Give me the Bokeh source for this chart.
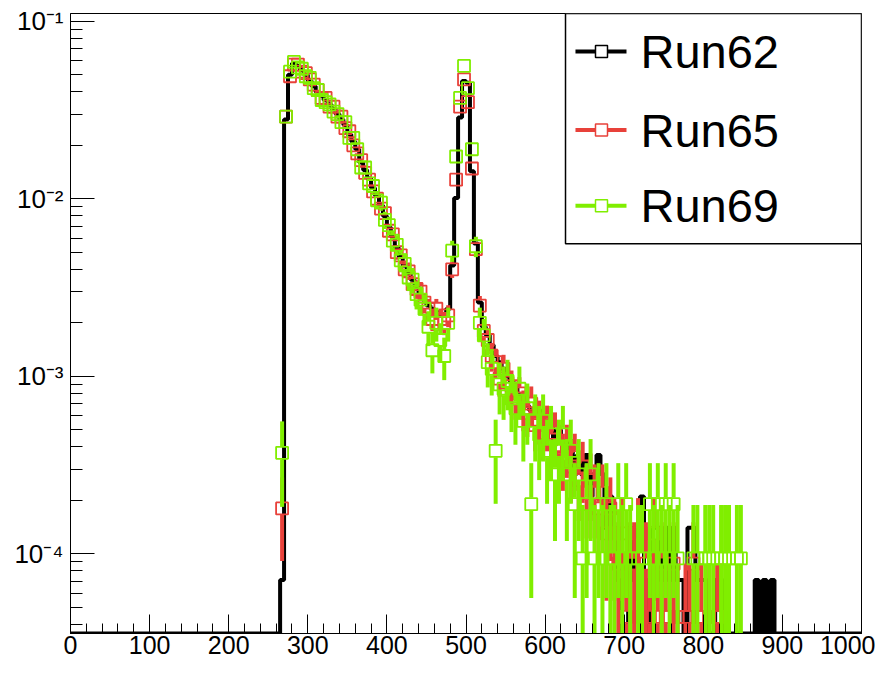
import math
from bokeh.plotting import figure
from bokeh.models import Range1d, FixedTicker, CustomJSTickFormatter
from bokeh.core.properties import value
from bokeh.embed import file_html
from bokeh.resources import INLINE

# ---------------- data (normalised bin contents, 5-unit bins) ----------------
bin_width = 5
bin_left = list(range(260, 900, bin_width))   # 128 bins, 260 .. 895

run62 = [
    0, 7.1e-5, 0.028, 0.050, 0.058, 0.056, 0.053, 0.050, 0.046, 0.043,            # 260-305
    0.040, 0.038, 0.036, 0.034, 0.032, 0.030, 0.028, 0.026, 0.023, 0.021,          # 310-355
    0.019, 0.016, 0.0145, 0.013, 0.0115, 0.0104, 0.0092, 0.0080, 0.0069, 0.0061,   # 360-405
    0.0053, 0.0047, 0.0042, 0.0038, 0.0035, 0.0032, 0.0029, 0.0027, 0.0025, 0.0024,  # 410-455
    0.0023, 0.0022, 0.0022, 0.0024, 0.0042, 0.0101, 0.0287, 0.046, 0.045, 0.0143,  # 460-505
    0.0056, 0.0026, 0.0019, 0.0017, 0.0015, 0.0013, 0.0012, 0.0011, 0.0010, 0.00094,  # 510-555
    0.00087, 0.00078, 0.00071, 0.00068, 0.00064, 0.00060, 0.00064, 0.00057, 0.00050, 0.00057,  # 560-605
    0.00043, 0.00050, 0.00043, 0.00036, 0.00043, 0.00028, 0.00036, 0.00028, 0.00036, 0.00021,  # 610-655
    0.00028, 0.00036, 0.00028, 0.00014, 0.00021, 0.00014, 7.1e-5, 0, 0, 0.00014,   # 660-705
    7.1e-5, 0.00014, 0.00021, 7.1e-5, 0, 0.00014, 0.00014, 7.1e-5, 0.00014, 7.1e-5,  # 710-755
    0.00014, 7.1e-5, 7.1e-5, 0, 0.00014, 0.00014, 7.1e-5, 7.1e-5, 7.1e-5, 0,      # 760-805
    0, 7.1e-5, 7.1e-5, 0, 0, 0, 0, 0, 0, 0,                                        # 810-855
    0, 7.1e-5, 0, 7.1e-5, 0, 7.1e-5, 0, 0,                                         # 860-895
]

run65 = [
    0, 1.8e-4, 0.029, 0.049, 0.057, 0.057, 0.052, 0.051, 0.047, 0.044,
    0.041, 0.037, 0.037, 0.033, 0.033, 0.029, 0.029, 0.025, 0.024, 0.020,
    0.018, 0.0165, 0.0140, 0.0128, 0.0110, 0.0100, 0.0088, 0.0083, 0.0066, 0.0063,
    0.0050, 0.0048, 0.0040, 0.0039, 0.0033, 0.0031, 0.0030, 0.0026, 0.0024, 0.0021,
    0.0024, 0.0021, 0.0020, 0.0022, 0.0040, 0.0128, 0.033, 0.047, 0.035, 0.0148,
    0.0052, 0.0025, 0.0018, 0.0016, 0.0013, 0.0012, 0.00097, 0.0011, 0.00092, 0.00088,
    0.00075, 0.00080, 0.00066, 0.00062, 0.00070, 0.00053, 0.00057, 0.00048, 0.00053, 0.00044,
    0.00048, 0.00040, 0.00035, 0.00040, 0.00031, 0.00035, 0.00026, 0.00031, 0.00022, 0.00026,
    0.00022, 0.00018, 0.00022, 0.00013, 0.00018, 0.00013, 8.8e-5, 0.00013, 4.4e-5, 8.8e-5,
    8.8e-5, 0.00013, 4.4e-5, 8.8e-5, 4.4e-5, 0.00013, 4.4e-5, 8.8e-5, 4.4e-5, 4.4e-5,
    8.8e-5, 4.4e-5, 0, 4.4e-5, 4.4e-5, 8.8e-5, 4.4e-5, 4.4e-5, 0, 4.4e-5,
    0, 4.4e-5, 4.4e-5, 0, 0, 0, 0, 0, 0, 0,
    0, 0, 0, 0, 0, 0, 0, 0,
]

run69 = [
    0, 3.7e-4, 0.029, 0.052, 0.059, 0.055, 0.054, 0.049, 0.048, 0.042,
    0.041, 0.036, 0.035, 0.034, 0.031, 0.030, 0.027, 0.027, 0.022, 0.022,
    0.019, 0.015, 0.0150, 0.0122, 0.0118, 0.0098, 0.0095, 0.0076, 0.0071, 0.0058,
    0.0055, 0.0045, 0.0043, 0.0036, 0.0035, 0.0029, 0.0027, 0.0024, 0.0019, 0.0014,
    0.0020, 0.0016, 0.0013, 0.0020, 0.0051, 0.0173, 0.037, 0.056, 0.042, 0.019,
    0.0054, 0.0020, 0.0017, 0.0012, 0.0011, 0.00038, 0.00090, 0.00085, 0.00094, 0.00075,
    0.00066, 0.00085, 0.00056, 0.00066, 0.00019, 0.00056, 0.00047, 0.00056, 0.00038, 0.00047,
    0.00028, 0.00038, 0.00047, 0.00028, 0.00038, 0.00019, 0.00028, 9.4e-5, 0.00019, 0.00028,
    9.4e-5, 0.00019, 9.4e-5, 0.00019, 9.4e-5, 9.4e-5, 0.00019, 9.4e-5, 0.00019, 9.4e-5,
    0, 9.4e-5, 9.4e-5, 0, 0.00019, 9.4e-5, 0.00019, 9.4e-5, 0.00019, 9.4e-5,
    0.00019, 9.4e-5, 0, 0, 0, 9.4e-5, 9.4e-5, 0, 9.4e-5, 9.4e-5,
    9.4e-5, 0, 9.4e-5, 9.4e-5, 9.4e-5, 0, 9.4e-5, 9.4e-5, 0, 0,
    0, 0, 0, 0, 0, 0, 0, 0,
]

# value of a single entry in each normalised histogram (for Poisson errors)
unit62, unit65, unit69 = 7.1e-5, 4.4e-5, 9.4e-5

labels = ["Run62", "Run65", "Run69"]
colors = ["#000000", "#e8413a", "#80ee00"]

x_ticks = [0, 100, 200, 300, 400, 500, 600, 700, 800, 900, 1000]
y_ticks = [1e-4, 1e-3, 1e-2, 1e-1]

# ---------------- figure ----------------
xmin, xmax = 0, 1000
ymin, ymax = 3.55e-5, 0.1106

p = figure(width=875, height=665, output_backend="svg", toolbar_location=None,
           x_range=Range1d(xmin, xmax), y_range=Range1d(ymin, ymax),
           y_axis_type="log",
           min_border_left=70, min_border_right=14, min_border_top=13, min_border_bottom=32)
p.background_fill_color = "white"
p.border_fill_color = "white"
p.outline_line_color = "black"
p.outline_line_width = 1
p.xgrid.visible = False
p.ygrid.visible = False

font = "Liberation Sans"
p.xaxis.ticker = FixedTicker(ticks=x_ticks, minor_ticks=list(range(0, 1001, 20)))
p.yaxis.ticker = FixedTicker(ticks=y_ticks,
                             minor_ticks=[m * 10.0 ** e for e in range(-5, 0) for m in range(1, 10)])
p.yaxis.formatter = CustomJSTickFormatter(code="""
const e = Math.round(Math.log10(tick));
const sup = {"-": "\u207b", "0": "\u2070", "1": "\u00b9", "2": "\u00b2", "3": "\u00b3",
             "4": "\u2074", "5": "\u2075", "6": "\u2076", "7": "\u2077", "8": "\u2078", "9": "\u2079"};
return "10" + String(e).split("").map(c => sup[c]).join("");
""")
for ax in (p.xaxis, p.yaxis):
    ax.major_tick_out = 0
    ax.minor_tick_out = 0
    ax.axis_line_color = "black"
    ax.major_tick_line_color = "black"
    ax.minor_tick_line_color = "black"
    ax.major_label_text_color = "black"
    ax.major_label_text_font = font
p.xaxis.major_label_text_font_size = "25px"
p.yaxis.major_label_text_font_size = "26px"
p.xaxis.major_tick_in = 19
p.xaxis.minor_tick_in = 10
p.xaxis.major_label_standoff = 2
p.yaxis.major_tick_in = 24
p.yaxis.minor_tick_in = 12
p.yaxis.major_label_standoff = 7

# ---------------- Run62: histogram outline ----------------
step_x = [xmin] + bin_left + [bin_left[-1] + bin_width, xmax]
step_y = [ymin] + [v if v > 0 else ymin for v in run62] + [ymin, ymin]
p.step(step_x, step_y, mode="after", line_color=colors[0], line_width=4)

# ---------------- Run65 / Run69: markers with error bars ----------------
gap = 10 ** (6.5 / 177.0)   # error bars stop at the open marker's edge


def draw_points(vals, unit, color):
    xs, ys = [], []
    sx0, sy0, sx1, sy1 = [], [], [], []
    for xl, v in zip(bin_left, vals):
        if v <= 0:
            continue
        xc = xl + bin_width / 2
        xs.append(xc)
        ys.append(v)
        e = math.sqrt(v * unit)
        top = v + e
        bot = max(v - e, ymin)
        if top > v * gap:
            sx0.append(xc); sy0.append(v * gap); sx1.append(xc); sy1.append(top)
        if bot < v / gap:
            sx0.append(xc); sy0.append(bot); sx1.append(xc); sy1.append(v / gap)
    p.segment(sx0, sy0, sx1, sy1, line_color=color, line_width=4)
    p.scatter(xs, ys, marker="square", size=12, fill_color=None,
              line_color=color, line_width=1.8)


draw_points(run65, unit65, colors[1])
draw_points(run69, unit69, colors[2])

# ---------------- legend box (top right, like ROOT TLegend) ----------------
lmin, lmax = math.log10(ymin), math.log10(ymax)


def yfrac(f):
    return 10 ** (lmax - f * (lmax - lmin))


p.quad(left=[625.8], right=[xmax], top=[ymax], bottom=[yfrac(0.3715)],
       fill_color="white", line_color="black", line_width=1.5)
for i, (lab, col) in enumerate(zip(labels, colors)):
    yy = yfrac([0.0611, 0.188, 0.310][i])
    p.segment([638.4], [yy], [702.9], [yy], line_color=col, line_width=4)
    p.scatter([671.3], [yy], marker="square", size=12, fill_color="white",
              line_color=col, line_width=1.5)
    p.text([720.6], [yy], text=[lab], text_font=value(font), text_font_size="47px",
           text_align="left", text_baseline="middle", text_color="black")

open("out.html", "w").write(file_html(p, INLINE))
